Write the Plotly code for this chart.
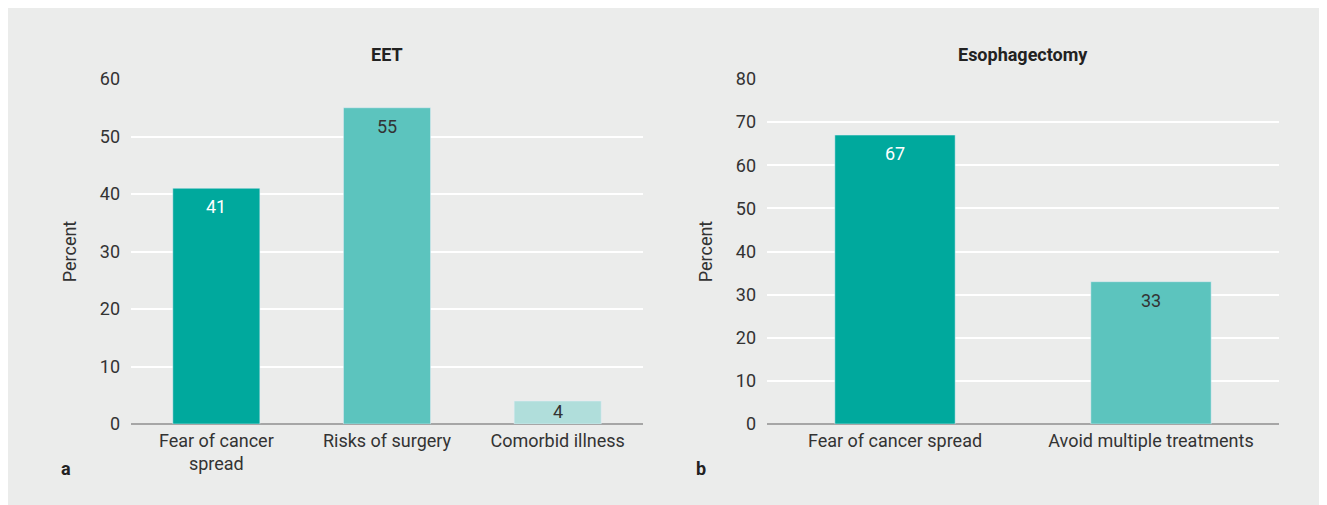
import plotly.graph_objects as go
from plotly.subplots import make_subplots

# ---- data ----
eet_categories = ["Fear of cancer<br>spread", "Risks of surgery", "Comorbid illness"]
eet_values = [41, 55, 4]
eet_colors = ["#00a99d", "#5cc4be", "#b0dedb"]
eet_label_colors = ["#ffffff", "#333333", "#333333"]
eet_label_shift = [-6, -6, 2]

eso_categories = ["Fear of cancer spread", "Avoid multiple treatments"]
eso_values = [67, 33]
eso_colors = ["#00a99d", "#5cc4be"]
eso_label_colors = ["#ffffff", "#333333"]
eso_label_shift = [-6, -6]

eet_ticks = [0, 10, 20, 30, 40, 50, 60]
eso_ticks = [0, 10, 20, 30, 40, 50, 60, 70, 80]

FONT = "Roboto, sans-serif"
BG = "#ebeceb"
TXT = "#333333"
W, H = 1327, 505

fig = make_subplots(rows=1, cols=2)

fig.add_trace(go.Bar(x=eet_categories, y=eet_values, marker_color=eet_colors,
                     width=0.51, showlegend=False, hoverinfo="x+y"), row=1, col=1)
fig.add_trace(go.Bar(x=eso_categories, y=eso_values, marker_color=eso_colors,
                     width=0.47, showlegend=False, hoverinfo="x+y"), row=1, col=2)

annotations = []
for cat, val, col, sh in zip(eet_categories, eet_values, eet_label_colors, eet_label_shift):
    annotations.append(dict(x=cat, y=val, xref="x", yref="y", text=str(val),
                            showarrow=False, xanchor="center", yanchor="top", yshift=sh,
                            font=dict(family=FONT, size=18, color=col)))
for cat, val, col, sh in zip(eso_categories, eso_values, eso_label_colors, eso_label_shift):
    annotations.append(dict(x=cat, y=val, xref="x2", yref="y2", text=str(val),
                            showarrow=False, xanchor="center", yanchor="top", yshift=sh,
                            font=dict(family=FONT, size=18, color=col)))

# titles and panel letters
annotations += [
    dict(x=379 / W, y=1 - 47 / H, xref="paper", yref="paper", text="<b>EET</b>",
         showarrow=False, xanchor="center", yanchor="middle",
         font=dict(family=FONT, size=18, color="#222222")),
    dict(x=1015 / W, y=1 - 47 / H, xref="paper", yref="paper", text="<b>Esophagectomy</b>",
         showarrow=False, xanchor="center", yanchor="middle",
         font=dict(family=FONT, size=18, color="#222222")),
    dict(x=58 / W, y=1 - 460 / H, xref="paper", yref="paper", text="<b>a</b>",
         showarrow=False, xanchor="center", yanchor="middle",
         font=dict(family=FONT, size=18, color="#222222")),
    dict(x=693 / W, y=1 - 460 / H, xref="paper", yref="paper", text="<b>b</b>",
         showarrow=False, xanchor="center", yanchor="middle",
         font=dict(family=FONT, size=18, color="#222222")),
]

fig.update_xaxes(showgrid=False, showline=False, zeroline=False, ticks="",
                 tickfont=dict(family=FONT, size=18, color=TXT), automargin=False,
                 ticklabelstandoff=4)
fig.update_yaxes(showgrid=True, gridcolor="#ffffff", gridwidth=2,
                 zeroline=True, zerolinecolor="#a6a6a6", zerolinewidth=2,
                 showline=False, ticks="", automargin=False,
                 tickfont=dict(family=FONT, size=18, color=TXT),
                 ticklabelstandoff=10,
                 title=dict(text="Percent", standoff=18,
                            font=dict(family=FONT, size=18, color=TXT)))

fig.update_layout(
    xaxis=dict(domain=[123 / W, 635 / W]),
    xaxis2=dict(domain=[759 / W, 1271 / W]),
    yaxis=dict(domain=[1 - 416 / H, 1 - 71 / H], range=[0, 60], tickvals=eet_ticks),
    yaxis2=dict(domain=[1 - 416 / H, 1 - 71 / H], range=[0, 80], tickvals=eso_ticks),
    width=W, height=H,
    margin=dict(l=0, r=0, t=0, b=0),
    paper_bgcolor=BG,
    plot_bgcolor=BG,
    annotations=annotations,
    bargap=0.5,
)

fig.write_html("out.html")
